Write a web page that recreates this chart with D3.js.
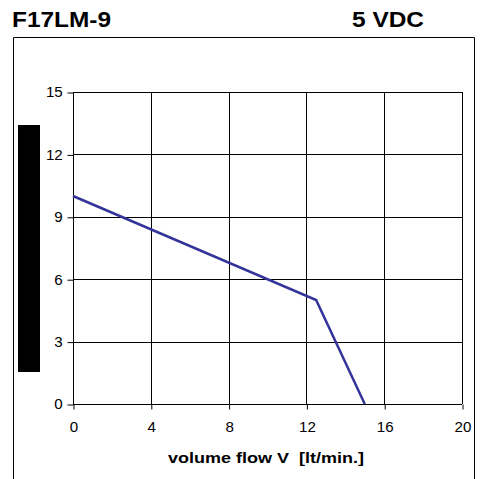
<!DOCTYPE html>
<html>
<head>
<meta charset="utf-8">
<script src="https://cdn.jsdelivr.net/npm/d3@7"></script>
<style>
  body { margin: 0; background: #fff; }
  svg { display: block; font-family: "Liberation Sans", Arial, sans-serif; }
</style>
</head>
<body>
<svg id="chart"></svg>
<script>
WIDTH = 480
HEIGHT = 479

// curve points
flow = [0, 12.5, 15];
pressure = [10, 5, 0];
x_ticks = [0, 4, 8, 12, 16, 20];
y_ticks = [0, 3, 6, 9, 12, 15];
title_left = "F17LM-9";
title_right = "5 VDC";
x_label = "volume flow V  [lt/min.]";

var svg = d3.select("#chart")
    .attr("width", WIDTH)
    .attr("height", HEIGHT);

var x = d3.scaleLinear().domain([0, 20]).range([73, 462]);
var y = d3.scaleLinear().domain([0, 15]).range([404, 92]);

// the original text is a bit wider than plain Arial, so stretch it sideways
function stretchedText(tx, ty, size, sx, anchor, str) {
    return svg.append("text")
        .attr("transform", "translate(" + tx + "," + ty + ") scale(" + sx + ",1)")
        .attr("text-anchor", anchor)
        .attr("font-size", size)
        .attr("font-weight", "bold")
        .style("white-space", "pre")
        .text(str);
}

// outer frame (bottom edge is cut off)
svg.append("path")
    .attr("d", "M13.5,479V37.5H474.5V479")
    .attr("fill", "none")
    .attr("stroke", "#000")
    .attr("stroke-width", 1);

stretchedText(12, 27, 22, 1.11, "start", title_left);
stretchedText(424, 27, 22, 1.11, "end", title_right);

// black bar on the left (y-axis title area)
svg.append("rect")
    .attr("x", 18)
    .attr("y", 125)
    .attr("width", 22)
    .attr("height", 247)
    .attr("fill", "#000");

// grid
svg.append("g")
    .selectAll("line")
    .data(x_ticks)
    .enter().append("line")
    .attr("x1", d => Math.round(x(d)) + 0.5)
    .attr("x2", d => Math.round(x(d)) + 0.5)
    .attr("y1", y(15))
    .attr("y2", y(0))
    .attr("stroke", "#000");

svg.append("g")
    .selectAll("line")
    .data(y_ticks)
    .enter().append("line")
    .attr("x1", x(0))
    .attr("x2", x(20))
    .attr("y1", d => Math.round(y(d)) + 0.5)
    .attr("y2", d => Math.round(y(d)) + 0.5)
    .attr("stroke", "#000");

// axes
var yAxis = svg.append("g")
    .attr("transform", "translate(" + (x(0) + 0.5) + ",0.5)")
    .call(d3.axisLeft(y).tickValues(y_ticks).tickSize(6).tickPadding(4));
var xAxis = svg.append("g")
    .attr("transform", "translate(0.5," + (y(0) + 0.5) + ")")
    .call(d3.axisBottom(x).tickValues(x_ticks).tickSize(5).tickPadding(13));

[yAxis, xAxis].forEach(function (a) {
    a.select(".domain").remove();
    a.selectAll("text")
        .attr("font-size", 14)
        .attr("font-family", "Liberation Sans, Arial, sans-serif")
        .attr("fill", "#000")
        .attr("transform", "scale(1.08,1)");
});

stretchedText(266, 463, 15, 1.2, "middle", x_label);

// curve
var line = d3.line()
    .x(d => x(d[0]))
    .y(d => y(d[1]));

svg.append("path")
    .datum(flow.map((f, i) => [f, pressure[i]]))
    .attr("d", line)
    .attr("fill", "none")
    .attr("stroke", "#333399")
    .attr("stroke-width", 2.5);
</script>
</body>
</html>
